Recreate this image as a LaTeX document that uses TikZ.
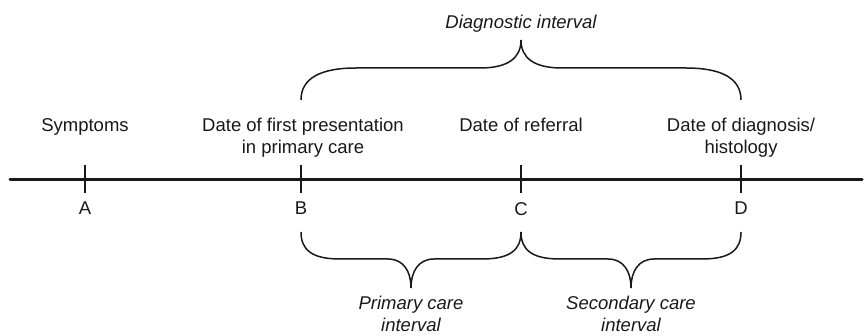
\documentclass[tikz,border=0pt]{standalone}
\usepackage{fontspec}
\setmainfont{Liberation Sans}
\usetikzlibrary{positioning}

\begin{document}
\begin{tikzpicture}[x=1pt,y=-1pt,
  axisline/.style={draw=black!90,line width=3pt,line cap=round},
  tickmark/.style={draw=black!90,line width=2.8pt},
  bracket/.style={draw=black!90,line width=1.5pt},
  datelabel/.style={inner sep=0pt,align=center,anchor=north,text=black!90,
    font=\fontsize{18.5}{22}\selectfont},
  ptlabel/.style={inner sep=0pt,text=black!90,font=\fontsize{18.5}{22}\selectfont},
  intlabel/.style={inner sep=0pt,align=center,anchor=north,text=black!90,
    font=\fontsize{18.5}{22}\selectfont\itshape}]
\useasboundingbox (0,0) rectangle (864,336);
%time axis
\coordinate (start) at (10,180);
\coordinate (stop) at (862,180);
\coordinate (A) at (85,180);
\coordinate (B) at (301,180);
\coordinate (C) at (521,180);
\coordinate (D) at (741,180);
\draw[axisline] (start) -- (stop);
\foreach \p in {A,B,C,D} \draw[tickmark] (\p) ++(0,-15) -- ++(0,28);
%letters under the ticks
\node[ptlabel,below=22pt of A] (lA) {A};
\node[ptlabel,below=22pt of B] (lB) {B};
\node[ptlabel,below=22pt of C] (lC) {C};
\node[ptlabel,below=22pt of D] (lD) {D};
%dates above the axis
\node[datelabel] (sym) at (85,118) {Symptoms};
\node[datelabel] (first) at (303,118) {Date of first presentation\\in primary care};
\node[datelabel] (ref) at (521,118) {Date of referral};
\node[datelabel] (diag) at (741,118) {Date of diagnosis/\\histology};
%diagnostic interval, B to D
\draw[bracket] (301,100) .. controls +(0,-22) and +(-35,0) .. (356,68) -- (480,68)
  .. controls +(28,0) and +(0,18) .. (521,40)
  .. controls +(0,18) and +(-28,0) .. (562,68) -- (686,68)
  .. controls +(35,0) and +(0,-22) .. (741,100);
\node[intlabel,anchor=base] (dint) at (521,29) {Diagnostic interval};
%primary care interval, B to C
\draw[bracket] (301,232) .. controls +(0,18) and +(-28,0) .. (340,259) -- (388,259)
  .. controls +(16,0) and +(0,-16) .. (411,288)
  .. controls +(0,-16) and +(-16,0) .. (434,259) -- (482,259)
  .. controls +(28,0) and +(0,18) .. (521,232);
\node[intlabel] (pint) at (411,296) {Primary care\\interval};
%secondary care interval, C to D
\draw[bracket] (521,232) .. controls +(0,18) and +(-28,0) .. (560,259) -- (608,259)
  .. controls +(16,0) and +(0,-16) .. (631,288)
  .. controls +(0,-16) and +(-16,0) .. (654,259) -- (702,259)
  .. controls +(28,0) and +(0,18) .. (741,232);
\node[intlabel] (sint) at (631,296) {Secondary care\\interval};
\end{tikzpicture}
\end{document}
